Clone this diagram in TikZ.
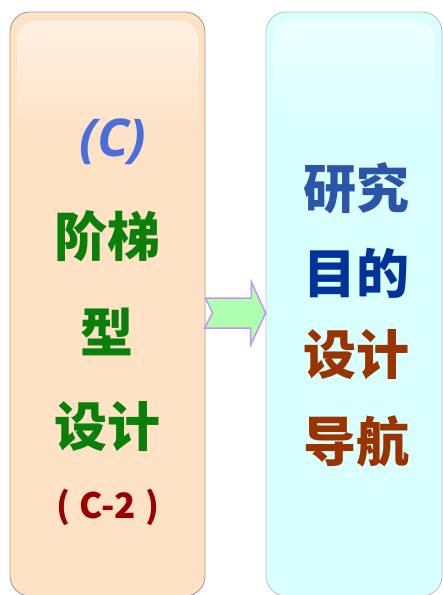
\documentclass[tikz,border=0pt]{standalone}
\usepackage{fontspec}
\usepackage{tikz}
\usetikzlibrary{calc}
\newfontfamily\cjk{Noto Sans CJK SC}
\newfontfamily\lat{Open Sans}
\definecolor{peach}{HTML}{FDE2C6}
\definecolor{peachtop}{HTML}{FEF1E3}
\definecolor{aqua}{HTML}{D9FFFF}
\definecolor{aquatop}{HTML}{EDFFFF}
\definecolor{cblue}{HTML}{4A6FDC}
\definecolor{sgreen}{HTML}{0A800A}
\definecolor{dred}{HTML}{990000}
\definecolor{rblue}{HTML}{2B55A8}
\definecolor{nblue}{HTML}{003399}
\definecolor{brown}{HTML}{993300}
\definecolor{lilac}{HTML}{C792F5}
\definecolor{mint}{HTML}{AEFFAE}
\tikzstyle{panel} = [rectangle, draw, rounded corners=20pt, line width=0.8pt,
    minimum height=584pt, inner sep=0pt]
\tikzstyle{big} = [font=\cjk\bfseries\fontsize{53}{60}\selectfont, inner sep=0pt]
\tikzstyle{shiftarrow} = [draw=lilac, fill=mint, line width=1.5pt, line join=miter]

\begin{document}
\begin{tikzpicture}[x=1pt, y=-1pt]
    \useasboundingbox (0,0) rectangle (443,595);
    % Place nodes
    % Panels
    \node [panel, fill=peach, draw=brown!35!gray!70, minimum width=195pt] (L) at (107.5,304) {};
    \node [panel, fill=aqua, draw=cyan!20!gray!60, minimum width=176pt] (R) at (354,304) {};
    \shade [top color=peachtop, bottom color=peach, rounded corners=18pt] (17,21) rectangle (198,130);
    \shade [top color=aquatop, bottom color=aqua, rounded corners=18pt] (273,21) rectangle (435,130);

    % Left text
    \node [font=\lat\bfseries\itshape\fontsize{52}{60}\selectfont, text=cblue] (C) at (113,142) {(C)};
    \node [big, text=sgreen] (L1) at (107,236) {阶梯};
    \node [big, text=sgreen] (L2) at (107,332) {型};
    \node [big, text=sgreen] (L3) at (107,427) {设计};
    \node [font=\cjk\bfseries\fontsize{35}{42}\selectfont, text=dred] (C2) at (108,507) {(\hspace{9pt}C-2\hspace{9pt})};

    % Right text
    \node [big, text=rblue] (R1) at (356,188) {研究};
    \node [big, text=nblue] (R2) at (356,273) {目的};
    \node [big, text=brown] (R3) at (356,355) {设计};
    \node [big, text=brown] (R4) at (356,441) {导航};

    % Arrow
    \draw [shiftarrow] ($(L.east)+(0,-6)$) -- ++(46,0) -- ++(0,-16) -- ($(R.west)+(0,9)$)
        -- ++(-15,32) -- ++(0,-17) -- ++(-46,0) -- ++(8,-15) -- cycle;
\end{tikzpicture}
\end{document}
